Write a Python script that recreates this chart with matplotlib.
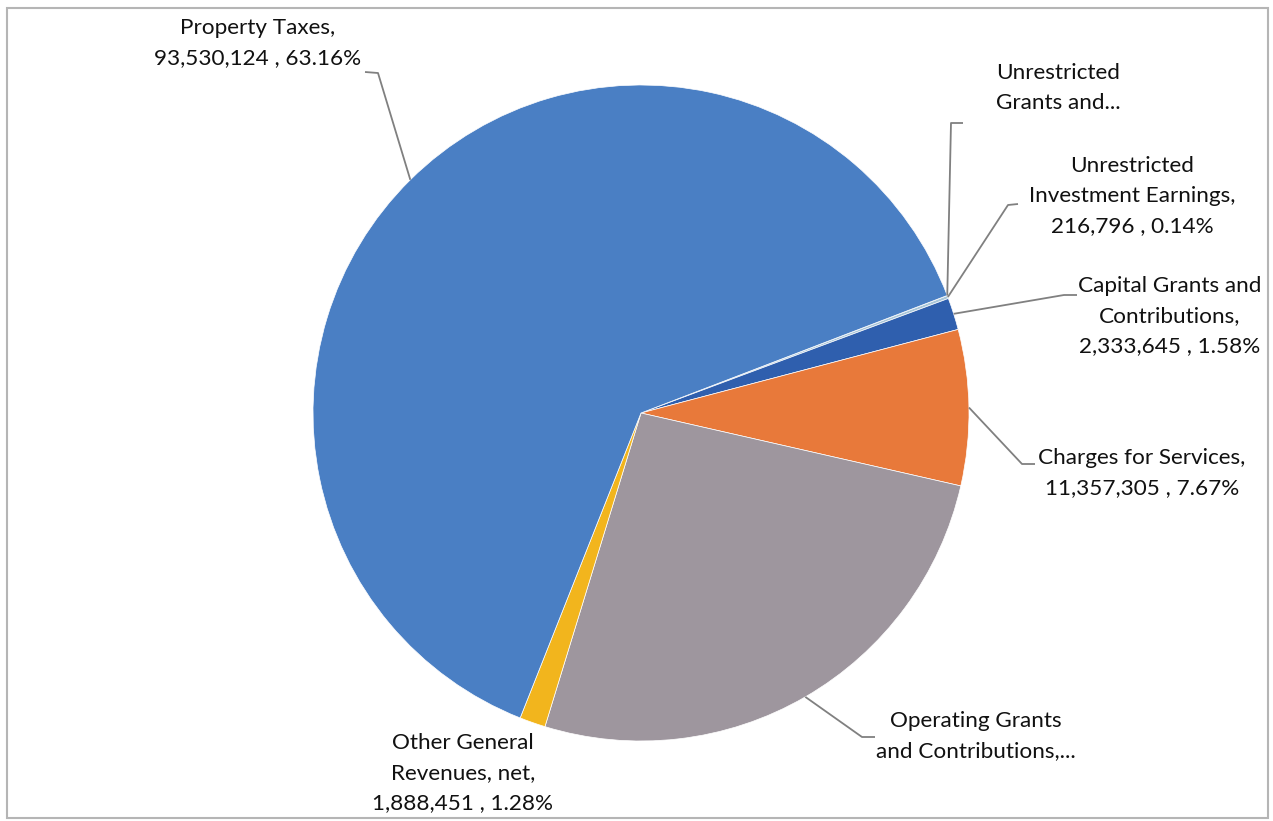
import numpy as np
import matplotlib
matplotlib.use("Agg")
import matplotlib.pyplot as plt
from matplotlib.patches import Rectangle

# ---------------------------------------------------
# slice data, clockwise from the top-right
categories = ["Unrestricted Grants and...",
              "Unrestricted Investment Earnings",
              "Capital Grants and Contributions",
              "Charges for Services",
              "Operating Grants and Contributions",
              "Other General Revenues, net",
              "Property Taxes"]
values = [15000, 216796, 2333645, 11357305, 38740000, 1888451, 93530124]
label_texts = ["Unrestricted\nGrants and...",
               "Unrestricted\nInvestment Earnings,\n216,796 , 0.14%",
               "Capital Grants and\nContributions,\n2,333,645 , 1.58%",
               "Charges for Services,\n11,357,305 , 7.67%",
               "Operating Grants\nand Contributions,...",
               "Other General\nRevenues, net,\n1,888,451 , 1.28%",
               "Property Taxes,\n93,530,124 , 63.16%"]
colors = ["#6aa84f", "#a9c6d8", "#2f5fae", "#e8793a", "#9e969e", "#f2b51d", "#4a7fc4"]

# label layout (pixel coords of figure): text centre, elbow start, elbow end
label_pos = [(1058, 88), (1132, 196), (1170, 316), (1142, 473), (976, 736), (463, 773), (258, 43)]
elbows = [((963, 123), (951, 123)),
          ((1018, 204), (1008, 205)),
          ((1077, 295), (1064, 295)),
          ((1035, 464), (1022, 464)),
          ((875, 737), (862, 737)),
          None,
          ((365, 72), (378, 73))]

W, H = 1273, 821
CX, CY, R = 641, 413, 328
START = 21

fig = plt.figure(figsize=(W / 100, H / 100), dpi=100)
ax = fig.add_axes([0, 0, 1, 1])

wedges, _ = ax.pie(values, colors=colors, startangle=START, counterclock=False,
                   center=(CX, H - CY), radius=R,
                   wedgeprops=dict(edgecolor="white", linewidth=0.5))
ax.set_xlim(0, W)
ax.set_ylim(0, H)
ax.set_aspect("auto")
ax.axis("off")

for w, txt, (lx, ly), elb in zip(wedges, label_texts, label_pos, elbows):
    ax.text(lx, H - ly, txt, ha="center", va="center", fontsize=16.2,
            family=["Lato", "DejaVu Sans"], color="#111111", linespacing=1.62)
    if elb is None:
        continue
    mid = np.deg2rad((w.theta1 + w.theta2) / 2)
    ex = CX + R * np.cos(mid)
    ey = H - CY + R * np.sin(mid)
    (x0, y0), (x1, y1) = elb
    ax.plot([x0, x1, ex], [H - y0, H - y1, ey], color="#808080", lw=1.3,
            solid_capstyle="butt")

# chart border
fig.patches.append(Rectangle((7 / W, 1 - 818 / H), 1261 / W, 810 / H,
                             transform=fig.transFigure, fill=False,
                             edgecolor="#b5b5b5", linewidth=1.5))

fig.savefig("out.png", dpi=100)
